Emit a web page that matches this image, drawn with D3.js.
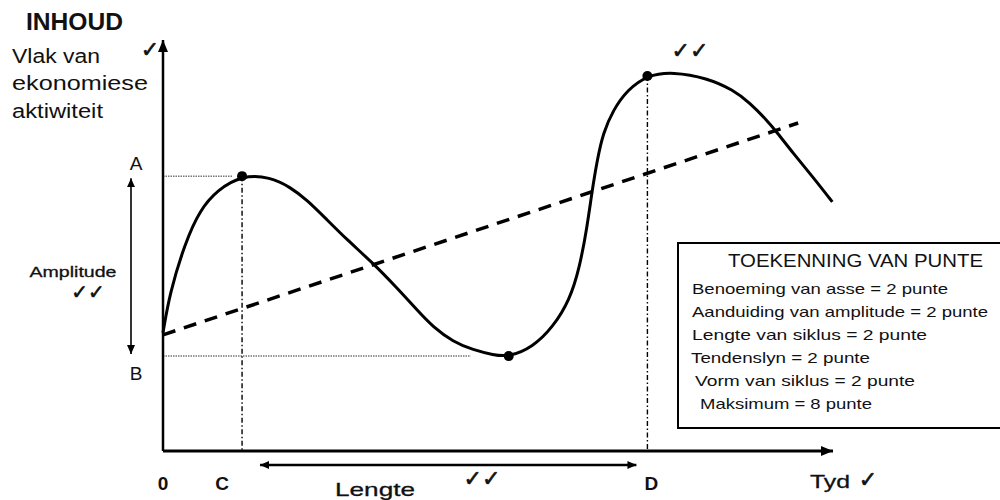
<!DOCTYPE html>
<html>
<head>
<meta charset="utf-8">
<script src="https://cdn.jsdelivr.net/npm/d3@7"></script>
<style>
  body { margin: 0; background: #fff; }
  svg { display: block; font-family: "Liberation Sans", Arial, sans-serif; }
</style>
</head>
<body>
<script>
// business cycle (time 0-100, activity 0-100)
const cycleT = [0, 1.0, 3.3, 5.5, 8.1, 11.8, 16.0, 19.0, 21.5, 24.5, 27.5, 31.3, 34.9, 37.9, 40.3,
                43.3, 46.3, 49.3, 51.6, 55.2, 58.2, 60.7, 62.2, 63.3, 64.0, 64.8, 65.7, 67.2, 69.3,
                72.3, 76.1, 81.2, 85.1, 87.6, 90.1, 91.6, 94.0, 97.0, 99.9];
const cycleV = [28.9, 38.6, 50.9, 58.9, 63.8, 67.4, 67.0, 64.5, 61.4, 56.5, 51.6, 46.0, 39.9, 34.5, 30.3,
                26.7, 24.7, 23.5, 23.0, 25.4, 30.3, 36.9, 45.0, 54.8, 63.1, 71.1, 77.8, 83.4, 88.3,
                91.9, 92.7, 91.2, 88.3, 85.1, 80.9, 78.0, 72.9, 67.0, 60.9];

// trend line (dashed)
const trendT = [0, 94.8];
const trendV = [28.4, 80.2];

// turning points: first peak (C), trough, second peak (D)
const markT = [11.8, 51.6, 72.3];
const markV = [67.2, 23.2, 91.7];

const legendTitle = "TOEKENNING VAN PUNTE";
const legendLines = [
  "Benoeming van asse = 2 punte",
  "Aanduiding van amplitude = 2 punte",
  "Lengte van siklus = 2 punte",
  "Tendenslyn = 2 punte",
  "Vorm van siklus = 2 punte",
  "Maksimum = 8 punte"
];

const width = 1000, height = 500;

const x = d3.scaleLinear().domain([0, 100]).range([163, 833]);
const y = d3.scaleLinear().domain([0, 100]).range([451, 42]);

const svg = d3.select("body").append("svg")
    .attr("width", width)
    .attr("height", height);

const defs = svg.append("defs");
function arrowMarker(id, len, wid) {
  defs.append("marker")
      .attr("id", id)
      .attr("markerUnits", "userSpaceOnUse")
      .attr("viewBox", `0 ${-wid / 2} ${len} ${wid}`)
      .attr("refX", len)
      .attr("refY", 0)
      .attr("markerWidth", len)
      .attr("markerHeight", wid)
      .attr("orient", "auto-start-reverse")
    .append("path")
      .attr("d", `M0,${-wid / 2}L${len},0L0,${wid / 2}Z`)
      .attr("fill", "#000");
}
arrowMarker("axisHead", 12, 10);
arrowMarker("smallHead", 9, 8);

const x0 = x(0), y0 = y(0);
const pk1 = { t: markT[0], v: markV[0] };
const tr = { t: markT[1], v: markV[1] };
const pk2 = { t: markT[2], v: markV[2] };

// guide lines
svg.append("line")
    .attr("x1", x0).attr("x2", x(pk1.t) - 9)
    .attr("y1", y(pk1.v)).attr("y2", y(pk1.v))
    .attr("stroke", "#777").attr("stroke-width", 1.5).attr("stroke-dasharray", "1.5,1");
svg.append("line")
    .attr("x1", x0).attr("x2", x(tr.t) - 38)
    .attr("y1", y(tr.v)).attr("y2", y(tr.v))
    .attr("stroke", "#777").attr("stroke-width", 1.5).attr("stroke-dasharray", "1.5,1");

svg.selectAll(".vguide")
  .data([pk1, pk2])
  .join("line")
    .attr("x1", d => x(d.t)).attr("x2", d => x(d.t))
    .attr("y1", d => y(d.v)).attr("y2", y0)
    .attr("stroke", "#000").attr("stroke-width", 1.4)
    .attr("stroke-dasharray", "5,2.5,1.5,2.5");

// axes
svg.append("line")
    .attr("x1", x0).attr("y1", y0).attr("x2", x0).attr("y2", 40)
    .attr("stroke", "#000").attr("stroke-width", 2.5)
    .attr("marker-end", "url(#axisHead)");
svg.append("line")
    .attr("x1", x0).attr("y1", y0).attr("x2", 833).attr("y2", y0)
    .attr("stroke", "#000").attr("stroke-width", 3)
    .attr("marker-end", "url(#axisHead)");

// trend line
svg.append("line")
    .attr("x1", x(trendT[0])).attr("y1", y(trendV[0]))
    .attr("x2", x(trendT[1])).attr("y2", y(trendV[1]))
    .attr("stroke", "#000").attr("stroke-width", 3.5)
    .attr("stroke-dasharray", "13,9");

// cycle curve (basis smooths the hand-read points)
const line = d3.line()
    .x((d, i) => x(cycleT[i]))
    .y(d => y(d))
    .curve(d3.curveBasis);

svg.append("path")
    .datum(cycleV)
    .attr("fill", "none")
    .attr("stroke", "#000")
    .attr("stroke-width", 3)
    .attr("stroke-linejoin", "round")
    .attr("d", line);

svg.selectAll(".dot")
  .data([pk1, tr, pk2])
  .join("circle")
    .attr("cx", d => x(d.t))
    .attr("cy", d => y(d.v))
    .attr("r", 5)
    .attr("fill", "#000");

// amplitude arrow
svg.append("line")
    .attr("x1", x0 - 32).attr("x2", x0 - 32)
    .attr("y1", y(pk1.v) + 2).attr("y2", y(tr.v) - 2)
    .attr("stroke", "#000").attr("stroke-width", 1.6)
    .attr("marker-start", "url(#smallHead)")
    .attr("marker-end", "url(#smallHead)");

// cycle length arrow
svg.append("line")
    .attr("x1", x(pk1.t) + 18).attr("x2", x(pk2.t) - 11)
    .attr("y1", 465).attr("y2", 465)
    .attr("stroke", "#000").attr("stroke-width", 2.5)
    .attr("marker-start", "url(#smallHead)")
    .attr("marker-end", "url(#smallHead)");

// texts
function label(txt, px, py, size, opts = {}) {
  const t = svg.append("text")
      .attr("x", px).attr("y", py)
      .attr("font-size", size)
      .attr("font-weight", opts.bold ? "bold" : "normal")
      .attr("text-anchor", opts.anchor || "start")
      .attr("fill", "#111")
      .text(txt);
  if (opts.len) t.attr("textLength", opts.len).attr("lengthAdjust", "spacingAndGlyphs");
  if (opts.heavy) t.attr("stroke", "#111").attr("stroke-width", 0.3);
  return t;
}
function tick(txt, px, py, size) {
  return svg.append("text")
      .attr("x", px).attr("y", py)
      .attr("font-family", "DejaVu Sans")
      .attr("font-size", size)
      .attr("font-weight", "bold")
      .attr("text-anchor", "middle")
      .attr("fill", "#111")
      .attr("stroke", "#111").attr("stroke-width", 0.6)
      .text(txt);
}

label("INHOUD", 26, 30, 23, { bold: true, len: 97 });
label("Vlak van", 12, 63, 20, { len: 88 });
label("ekonomiese", 12, 90, 20, { len: 136 });
label("aktiwiteit", 12, 118, 20, { len: 91 });
tick("\u2713", 150, 57, 22);

label("A", x0 - 27, y(pk1.v) - 6, 19, { anchor: "middle" });
label("B", x0 - 27, y(tr.v) + 24, 19, { anchor: "middle" });
label("Amplitude", 73, 277, 15, { anchor: "middle", len: 87, heavy: true });
tick("\u2713\u2713", 88, 299, 20);

tick("\u2713\u2713", 690, 58, 22);

label("0", x0, 490, 19, { anchor: "middle", bold: true });
label("C", x(pk1.t) - 20, 490, 19, { anchor: "middle", bold: true });
label("D", x(pk2.t) + 4, 490, 19, { anchor: "middle", bold: true });
label("Lengte", 375, 496, 19, { anchor: "middle", len: 80, heavy: true });
tick("\u2713\u2713", 482, 486, 22);
label("Tyd", 810, 488, 19, { len: 40, heavy: true });
tick("\u2713", 868, 487, 22);

// marking box
const box = svg.append("g");
box.append("rect")
    .attr("x", 678).attr("y", 243)
    .attr("width", 340).attr("height", 185)
    .attr("fill", "#fff")
    .attr("stroke", "#000").attr("stroke-width", 2);

label(legendTitle, 728, 267, 18, { len: 255 });

const legendX = [692, 692, 692, 691, 695, 700];
const legendLen = [256, 296, 235, 179, 220, 172];
legendLines.forEach((s, i) => {
  label(s, legendX[i], 294 + i * 23, 15, { len: legendLen[i] });
});
</script>
</body>
</html>
